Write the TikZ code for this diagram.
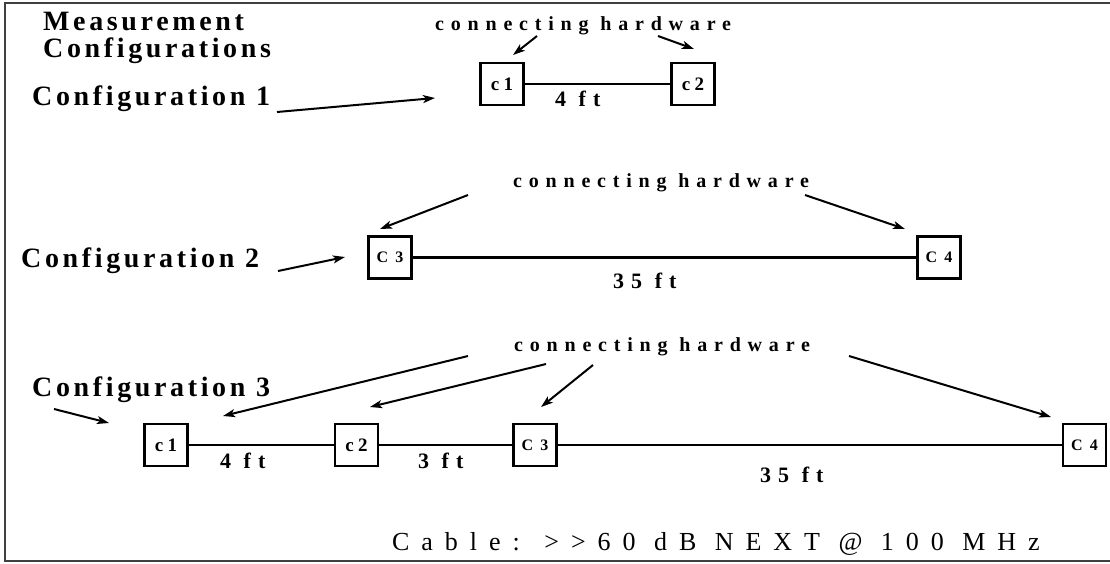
\documentclass[tikz,border=0pt]{standalone}
\usepackage{fontspec}
\setmainfont{Liberation Serif}
\newfontfamily\fA{Liberation Serif}[LetterSpace=13]
\newfontfamily\fB{Liberation Serif}[LetterSpace=34]
\newfontfamily\fC{Liberation Serif}[LetterSpace=46]
\newfontfamily\fD{Liberation Serif}[LetterSpace=32]
\newfontfamily\fE{Liberation Serif}[LetterSpace=22]
\newfontfamily\fF{Liberation Serif}[LetterSpace=45]
\usetikzlibrary{arrows.meta}
\tikzset{
  hd/.style={font=\fA\bfseries\fontsize{28}{32}\selectfont, anchor=base west, inner sep=0pt},
  hw/.style={font=\fB\bfseries\fontsize{20}{24}\selectfont, anchor=base west, inner sep=0pt},
  dist/.style={font=\fD\bfseries\fontsize{22}{26}\selectfont, anchor=base west, inner sep=0pt},
  cab/.style={font=\fC\fontsize{26}{30}\selectfont, anchor=base west, inner sep=0pt},
  conn/.style={draw, line width=2.2pt, minimum width=43pt, minimum height=42pt, inner sep=0pt, font=\fE\bfseries\fontsize{19}{22}\selectfont},
  connU/.style={conn, font=\fF\bfseries\fontsize{16}{20}\selectfont},
  arr/.style={line width=2pt, -{Stealth[length=12pt,width=8pt,inset=3pt]}},
  wire/.style={line width=2.2pt},
  frame/.style={line width=2.5pt, draw=black!75}
}
\begin{document}
\begin{tikzpicture}[x=1pt,y=-1pt]
\useasboundingbox (0,0) rectangle (1110,563);
% frame
\coordinate (f1) at (1110,3);
\coordinate (f2) at (5,3);
\coordinate (f3) at (5,561);
\coordinate (f4) at (1110,561);
\draw[frame] (f1) -- (f2) -- (f3) -- (f4);
% headings
\node[hd] (t1) at (43,30) {Measurement};
\node[hd] (t2) at (43,57) {Configurations};
% configuration 1
\node[hd] (cf1) at (32,105) {Configuration 1};
\node[hw] (hw1) at (435,30) {connecting hardware};
\node[conn] (a1) at (502,84) {c1};
\node[conn] (a2) at (693,84) {c2};
\draw[wire] (a1) -- (a2);
\node[dist] (d1) at (555,106) {4 ft};
\coordinate (p1s) at (277,112); \coordinate (p1e) at (435,98);
\draw[arr] (p1s) -- (p1e);
\coordinate (h1s) at (537,36); \coordinate (h1e) at (513,55);
\draw[arr] (h1s) -- (h1e);
\coordinate (h2s) at (658,36); \coordinate (h2e) at (694,49);
\draw[arr] (h2s) -- (h2e);
% configuration 2
\node[hd] (cf2) at (21,267) {Configuration 2};
\node[hw] (hw2) at (513,187) {connecting hardware};
\node[connU] (b3) at (390,257.5) {C3};
\node[connU] (b4) at (939,257.5) {C4};
\draw[wire] (b3) -- (b4);
\node[dist] (d2) at (613,288) {35 ft};
\coordinate (p2s) at (278,271); \coordinate (p2e) at (345,257);
\draw[arr] (p2s) -- (p2e);
\coordinate (h3s) at (468,195); \coordinate (h3e) at (380,229);
\draw[arr] (h3s) -- (h3e);
\coordinate (h4s) at (805,195); \coordinate (h4e) at (905,229);
\draw[arr] (h4s) -- (h4e);
% configuration 3
\node[hd] (cf3) at (32,396) {Configuration 3};
\node[hw] (hw3) at (514,351) {connecting hardware};
\node[conn] (c1) at (166,445) {c1};
\node[conn] (c2) at (356.5,445) {c2};
\node[connU] (c3) at (535,445) {C3};
\node[connU] (c4) at (1084.5,445) {C4};
\draw[wire] (c1) -- (c2);
\draw[wire] (c2) -- (c3);
\draw[wire] (c3) -- (c4);
\node[dist] (d3) at (220,468) {4 ft};
\node[dist] (d4) at (418,468) {3 ft};
\node[dist] (d5) at (760,482) {35 ft};
\coordinate (p3s) at (54,409); \coordinate (p3e) at (109,423);
\draw[arr] (p3s) -- (p3e);
\coordinate (h5s) at (468,356); \coordinate (h5e) at (223,416);
\draw[arr] (h5s) -- (h5e);
\coordinate (h6s) at (546,364); \coordinate (h6e) at (370,407);
\draw[arr] (h6s) -- (h6e);
\coordinate (h7s) at (593,365); \coordinate (h7e) at (541,407);
\draw[arr] (h7s) -- (h7e);
\coordinate (h8s) at (849,356); \coordinate (h8e) at (1051,417);
\draw[arr] (h8s) -- (h8e);
% cable note
\node[cab] (cb) at (392,550) {Cable: >>60 dB NEXT @ 100 MHz};
\end{tikzpicture}
\end{document}
